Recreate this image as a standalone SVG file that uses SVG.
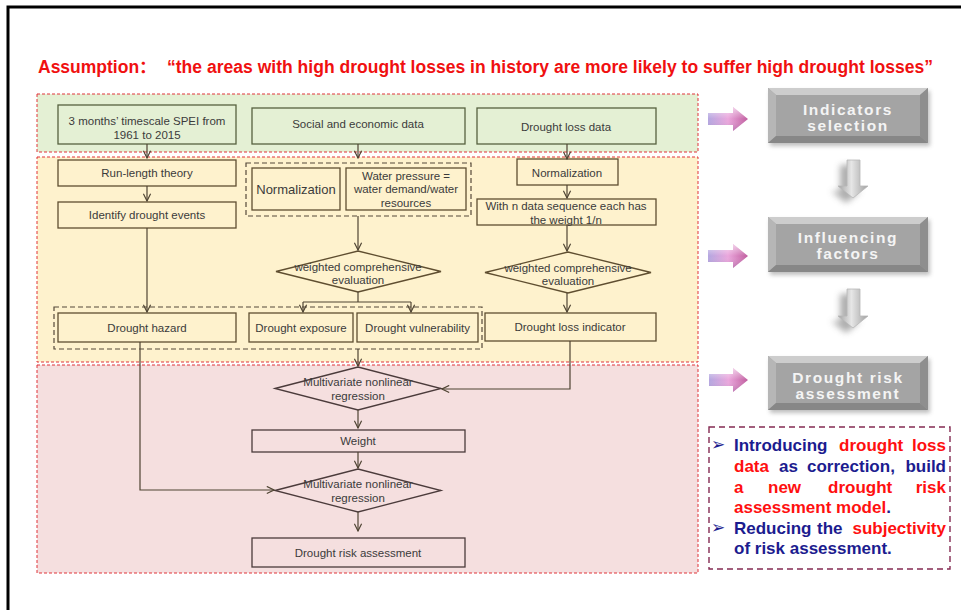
<svg xmlns="http://www.w3.org/2000/svg" width="961" height="610" viewBox="0 0 961 610">
<defs>
<style>
.t{font-family:"Liberation Sans",Arial,sans-serif;font-size:11.5px;fill:#3b3b3b;text-anchor:middle}
.gb{fill:#e4f0d4;stroke:#56613f;stroke-width:1.3}
.yb{fill:#fef2cd;stroke:#5f4e30;stroke-width:1.3}
.pb{fill:#f5dfdf;stroke:#4b3b3b;stroke-width:1.3}
.reg{stroke:#e0343a;stroke-width:1;stroke-dasharray:3 2}
.grp{fill:none;stroke:#55493a;stroke-width:1.2;stroke-dasharray:5 3}
.cn{fill:none;stroke:#4f4433;stroke-width:1.2}
.ca{fill:none;stroke:#4f4433;stroke-width:1.2;marker-end:url(#ah)}
.lbl{font-family:"Liberation Sans",Arial,sans-serif;font-size:15.5px;font-weight:bold;fill:#f4f4f4;text-anchor:middle;letter-spacing:1.6px}
.bl{font-family:"Liberation Sans",Arial,sans-serif;font-size:17px;font-weight:bold;fill:#1c1c8f}
.rd{fill:#ff1010}
.bul{font-family:"DejaVu Sans",sans-serif;font-size:17px;fill:#1c1c8f}
.title{font-family:"Liberation Sans","Noto Sans CJK SC",Arial,sans-serif;font-size:17.5px;font-weight:bold;fill:#f01010}
</style>
<marker id="ah" viewBox="0 0 10 10" refX="9" refY="5" markerWidth="9" markerHeight="9" markerUnits="userSpaceOnUse" orient="auto">
<path d="M1,1 L9,5 L1,9" fill="none" stroke="#4f4433" stroke-width="1.3"/>
</marker>
<linearGradient id="pa" x1="0" y1="0" x2="1" y2="0">
<stop offset="0" stop-color="#b3a6e0"/>
<stop offset="0.5" stop-color="#eaa6dc"/>
<stop offset="1" stop-color="#c05c9e"/>
</linearGradient>
<linearGradient id="ph" x1="0" y1="0" x2="0" y2="1">
<stop offset="0" stop-color="#ffffff" stop-opacity="0.6"/>
<stop offset="0.5" stop-color="#ffffff" stop-opacity="0"/>
<stop offset="1" stop-color="#502060" stop-opacity="0.25"/>
</linearGradient>
<linearGradient id="da" x1="0" y1="0" x2="1" y2="0">
<stop offset="0" stop-color="#a4a4a4"/>
<stop offset="0.45" stop-color="#e6e6e6"/>
<stop offset="1" stop-color="#a0a0a0"/>
</linearGradient>
<filter id="blur" x="-50%" y="-50%" width="200%" height="200%"><feGaussianBlur stdDeviation="3"/></filter>
<filter id="blur2" x="-20%" y="-20%" width="140%" height="140%"><feGaussianBlur stdDeviation="2"/></filter>
</defs>
<rect x="0" y="0" width="961" height="610" fill="#ffffff"/>
<path d="M8,610 V7 H961" fill="none" stroke="#000" stroke-width="3"/>

<g id="title">
<text class="title" x="38" y="73">Assumption：</text>
<text class="title" x="167" y="73" textLength="766" lengthAdjust="spacing">“the areas with high drought losses in history are more likely to suffer high drought losses”</text>
</g>

<g id="regions">
<rect class="reg" x="37" y="94" width="661" height="58" fill="#e4f0d4"/>
<rect class="reg" x="37" y="157" width="661" height="205" fill="#fef2cd"/>
<rect class="reg" x="37" y="365" width="661" height="208" fill="#f5dfdf"/>
</g>

<g id="n-spei"><rect class="gb" x="58" y="105" width="178" height="39"/><text class="t" x="147" y="125">3 months’ timescale SPEI from</text><text class="t" x="147" y="138.5">1961 to 2015</text></g>
<g id="n-social"><rect class="gb" x="252" y="108" width="213" height="36"/><text class="t" x="358" y="128">Social and economic data</text></g>
<g id="n-lossdata"><rect class="gb" x="477" y="108" width="179" height="36"/><text class="t" x="566" y="131">Drought loss data</text></g>

<g id="n-runlength"><rect class="yb" x="58" y="160" width="178" height="26"/><text class="t" x="147" y="177">Run-length theory</text></g>
<g id="n-identify"><rect class="yb" x="58" y="202" width="178" height="26"/><text class="t" x="147" y="219">Identify drought events</text></g>
<g id="g-socio"><rect class="grp" x="246" y="163" width="225" height="53"/></g>
<g id="n-norm1"><rect class="yb" x="252" y="168" width="88" height="42"/><text class="t" x="296" y="193.5" style="font-size:13px">Normalization</text></g>
<g id="n-water"><rect class="yb" x="346" y="168" width="120" height="42"/><text class="t" x="406" y="180">Water pressure =</text><text class="t" x="406" y="193">water demand/water</text><text class="t" x="406" y="206.5">resources</text></g>
<g id="d-wce1"><polygon class="yb" points="276,271.5 358,251 441,271.5 358,292"/><text class="t" x="358" y="271">weighted comprehensive</text><text class="t" x="358" y="284">evaluation</text></g>
<g id="g-factors"><rect class="grp" x="54" y="307" width="428" height="42"/></g>
<g id="n-hazard"><rect class="yb" x="58" y="313" width="178" height="29"/><text class="t" x="147" y="331.5">Drought hazard</text></g>
<g id="n-exposure"><rect class="yb" x="249" y="313" width="104" height="29"/><text class="t" x="301" y="331.5">Drought exposure</text></g>
<g id="n-vuln"><rect class="yb" x="357" y="313" width="121" height="29"/><text class="t" x="417.5" y="331.5">Drought vulnerability</text></g>
<g id="n-norm2"><rect class="yb" x="517" y="159" width="101" height="26"/><text class="t" x="567" y="176.5">Normalization</text></g>
<g id="n-weightn"><rect class="yb" x="477" y="199" width="179" height="26"/><text class="t" x="566" y="210">With n data sequence each has</text><text class="t" x="566" y="223.5">the weight 1/n</text></g>
<g id="d-wce2"><polygon class="yb" points="485,272.5 568,252 651,272.5 568,293"/><text class="t" x="568" y="271.5">weighted comprehensive</text><text class="t" x="568" y="285">evaluation</text></g>
<g id="n-lossind"><rect class="yb" x="485" y="313" width="171" height="28"/><text class="t" x="570" y="330.5">Drought loss indicator</text></g>

<g id="d-mnr1"><polygon class="pb" points="275,388.5 358,367 441,388.5 358,410"/><text class="t" x="358" y="386">Multivariate nonlinear</text><text class="t" x="358" y="399.5">regression</text></g>
<g id="n-weight"><rect class="pb" x="252" y="430" width="213" height="22"/><text class="t" x="358" y="445">Weight</text></g>
<g id="d-mnr2"><polygon class="pb" points="275,490.5 358,469 441,490.5 358,512"/><text class="t" x="358" y="488">Multivariate nonlinear</text><text class="t" x="358" y="501.5">regression</text></g>
<g id="n-risk"><rect class="pb" x="252" y="538" width="213" height="29"/><text class="t" x="358" y="556.5">Drought risk assessment</text></g>

<g id="connectors">
<path class="ca" d="M147,144 V158"/>
<path class="ca" d="M358,144 V158"/>
<path class="ca" d="M567,144 V159"/>
<path class="ca" d="M147,186 V201"/>
<path class="ca" d="M147,228 V312"/>
<path class="ca" d="M358,216 V250"/>
<path class="cn" d="M358,292 V302 M303,302 H411"/>
<path class="ca" d="M303,302 V312"/>
<path class="ca" d="M411,302 V312"/>
<path class="ca" d="M567,185 V198"/>
<path class="ca" d="M567,225 V251"/>
<path class="ca" d="M567,293 V312"/>
<path class="ca" d="M358,349 V366"/>
<path class="ca" d="M570,341 V389 H442"/>
<path class="ca" d="M358,410 V428"/>
<path class="ca" d="M358,452 V468"/>
<path class="ca" d="M140,342 V490 H274"/>
<path class="ca" d="M358,512 V531"/>
</g>

<g id="pink-arrows">
<path d="M708,113 H733 V107 L748,119 L733,131 V125 H708 Z" fill="url(#pa)"/>
<path d="M708,113 H733 V107 L748,119 L733,131 V125 H708 Z" fill="url(#ph)"/>
<path d="M708,250 H733 V244 L748,256 L733,268 V262 H708 Z" fill="url(#pa)"/>
<path d="M708,250 H733 V244 L748,256 L733,268 V262 H708 Z" fill="url(#ph)"/>
<path d="M709,374 H733 V368 L748,380 L733,392 V386 H709 Z" fill="url(#pa)"/>
<path d="M709,374 H733 V368 L748,380 L733,392 V386 H709 Z" fill="url(#ph)"/>
</g>

<g id="down-arrows">
<path d="M847,160 H860 V186 H868 L853,198 L838,186 H847 Z" transform="translate(-7,5)" fill="#606060" opacity="0.5" filter="url(#blur)"/>
<path d="M847,160 H860 V186 H868 L853,198 L838,186 H847 Z" fill="url(#da)" stroke="#b8b8b8" stroke-width="0.8"/>
<path d="M847,289 H860 V316 H868 L853,328 L838,316 H847 Z" transform="translate(-7,5)" fill="#606060" opacity="0.5" filter="url(#blur)"/>
<path d="M847,289 H860 V316 H868 L853,328 L838,316 H847 Z" fill="url(#da)" stroke="#b8b8b8" stroke-width="0.8"/>
</g>

<g id="s-indicators">
<rect x="770" y="91" width="160" height="55" fill="#707070" opacity="0.45" filter="url(#blur2)"/>
<rect x="768" y="88" width="160" height="55" fill="#a4a4a4"/>
<path d="M768,88 H928 L920,95 H776 Z" fill="#cdcdcd"/>
<path d="M768,88 L776,95 V136 L768,143 Z" fill="#b6b6b6"/>
<path d="M928,88 V143 L920,136 V95 Z" fill="#8e8e8e"/>
<path d="M768,143 H928 L920,136 H776 Z" fill="#878787"/>
<text class="lbl" x="848" y="114.5">Indicators</text>
<text class="lbl" x="848" y="131">selection</text>
</g>
<g id="s-influencing">
<rect x="770" y="220" width="160" height="55" fill="#707070" opacity="0.45" filter="url(#blur2)"/>
<rect x="768" y="217" width="160" height="55" fill="#a4a4a4"/>
<path d="M768,217 H928 L920,224 H776 Z" fill="#cdcdcd"/>
<path d="M768,217 L776,224 V265 L768,272 Z" fill="#b6b6b6"/>
<path d="M928,217 V272 L920,265 V224 Z" fill="#8e8e8e"/>
<path d="M768,272 H928 L920,265 H776 Z" fill="#878787"/>
<text class="lbl" x="848" y="243">Influencing</text>
<text class="lbl" x="848" y="259">factors</text>
</g>
<g id="s-risk">
<rect x="770" y="359" width="160" height="54" fill="#707070" opacity="0.45" filter="url(#blur2)"/>
<rect x="768" y="356" width="160" height="54" fill="#a4a4a4"/>
<path d="M768,356 H928 L920,363 H776 Z" fill="#cdcdcd"/>
<path d="M768,356 L776,363 V403 L768,410 Z" fill="#b6b6b6"/>
<path d="M928,356 V410 L920,403 V363 Z" fill="#8e8e8e"/>
<path d="M768,410 H928 L920,403 H776 Z" fill="#878787"/>
<text class="lbl" x="848" y="382.5">Drought risk</text>
<text class="lbl" x="848" y="399">assessment</text>
</g>

<g id="notes">
<rect x="709" y="427" width="241" height="142" fill="none" stroke="#842a52" stroke-width="1.4" stroke-dasharray="6 4"/>
<text class="bul" x="711" y="450">➢</text>
<text class="bul" x="711" y="533">➢</text>
<text class="bl" x="734" y="451">Introducing</text>
<text class="bl rd" x="839" y="451">drought</text>
<text class="bl rd" x="946" y="451" text-anchor="end">loss</text>
<text class="bl rd" x="734" y="472">data</text>
<text class="bl" x="779" y="472">as</text>
<text class="bl" x="807" y="472">correction,</text>
<text class="bl" x="946" y="472" text-anchor="end">build</text>
<text class="bl rd" x="734" y="492.5">a</text>
<text class="bl rd" x="768" y="492.5">new</text>
<text class="bl rd" x="828" y="492.5">drought</text>
<text class="bl rd" x="946" y="492.5" text-anchor="end">risk</text>
<text class="bl" x="734" y="513"><tspan class="rd">assessment model</tspan>.</text>
<text class="bl" x="734" y="534">Reducing</text>
<text class="bl" x="817" y="534">the</text>
<text class="bl rd" x="946" y="534" text-anchor="end">subjectivity</text>
<text class="bl" x="734" y="554">of risk assessment.</text>
</g>
</svg>
